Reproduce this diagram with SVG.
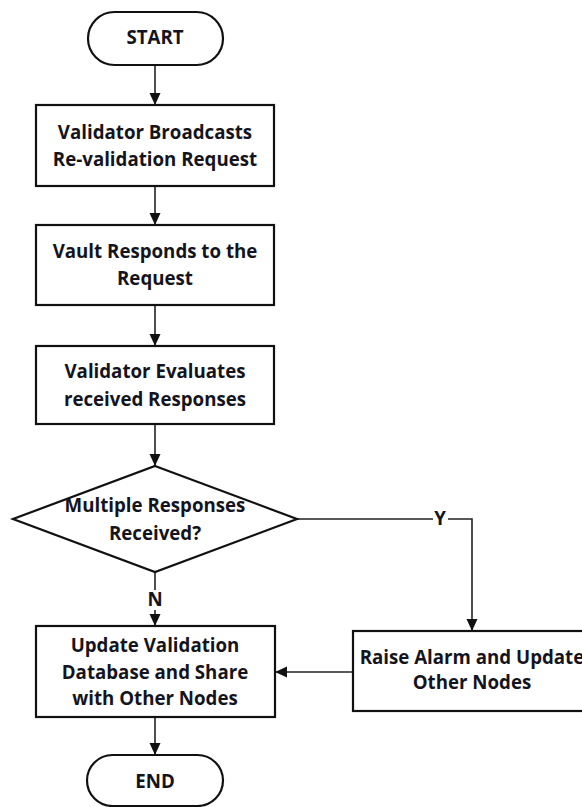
<svg xmlns="http://www.w3.org/2000/svg" width="582" height="807" viewBox="0 0 582 807">
<defs>
<marker id="arr" markerUnits="userSpaceOnUse" markerWidth="12" markerHeight="12" viewBox="0 0 12 12" refX="12" refY="6" orient="auto">
<path d="M0,0.5 L12,6 L0,11.5 Z" fill="#111"/>
</marker>
</defs>
<style>
.box{fill:#fff;stroke:#111;stroke-width:2.2}
.t{font-family:"Open Sans",Lato,"Liberation Sans",sans-serif;font-weight:bold;font-size:18.7px;fill:#141420;text-anchor:middle}
.c{fill:none;stroke:#222;stroke-width:1.6}
.lbl{fill:#fff}
</style>
<rect width="582" height="807" fill="#fff"/>
<g id="connectors">
<line class="c" x1="155" y1="65" x2="155" y2="105" marker-end="url(#arr)"/>
<line class="c" x1="155" y1="186" x2="155" y2="225" marker-end="url(#arr)"/>
<line class="c" x1="155" y1="305" x2="155" y2="346" marker-end="url(#arr)"/>
<line class="c" x1="155" y1="424" x2="155" y2="466" marker-end="url(#arr)"/>
<line class="c" x1="155" y1="572" x2="155" y2="626" marker-end="url(#arr)"/>
<polyline class="c" points="297,519 472,519 472,631" marker-end="url(#arr)"/>
<line class="c" x1="353" y1="672" x2="275" y2="672" marker-end="url(#arr)"/>
<line class="c" x1="155" y1="717" x2="155" y2="755" marker-end="url(#arr)"/>
<rect class="lbl" x="147" y="590" width="16" height="20"/>
<text class="t" x="155" y="606">N</text>
<rect class="lbl" x="433" y="509" width="15" height="20"/>
<text class="t" x="440" y="525">Y</text>
</g>
<g id="start">
<rect class="box" x="88" y="12" width="135" height="53" rx="26.5"/>
<text class="t" x="155" y="44">START</text>
</g>
<g id="broadcast">
<rect class="box" x="36" y="105" width="238" height="81"/>
<text class="t" x="155" y="139">Validator Broadcasts</text>
<text class="t" x="155" y="166">Re-validation Request</text>
</g>
<g id="respond">
<rect class="box" x="36" y="225" width="238" height="80"/>
<text class="t" x="155" y="258">Vault Responds to the</text>
<text class="t" x="155" y="285">Request</text>
</g>
<g id="evaluate">
<rect class="box" x="36" y="346" width="238" height="78"/>
<text class="t" x="155" y="378">Validator Evaluates</text>
<text class="t" x="155" y="406">received Responses</text>
</g>
<g id="decision">
<polygon class="box" points="155,466 297,519 155,572 13,519"/>
<text class="t" x="155" y="512">Multiple Responses</text>
<text class="t" x="155" y="540">Received?</text>
</g>
<g id="update">
<rect class="box" x="36" y="626" width="239" height="91"/>
<text class="t" x="155" y="652">Update Validation</text>
<text class="t" x="155" y="679">Database and Share</text>
<text class="t" x="155" y="705">with Other Nodes</text>
</g>
<g id="alarm">
<rect class="box" x="353" y="631" width="240" height="80"/>
<text class="t" x="472" y="664">Raise Alarm and Update</text>
<text class="t" x="472" y="689">Other Nodes</text>
</g>
<g id="end">
<rect class="box" x="87" y="755" width="136" height="51" rx="25.5"/>
<text class="t" x="155" y="788">END</text>
</g>
</svg>
